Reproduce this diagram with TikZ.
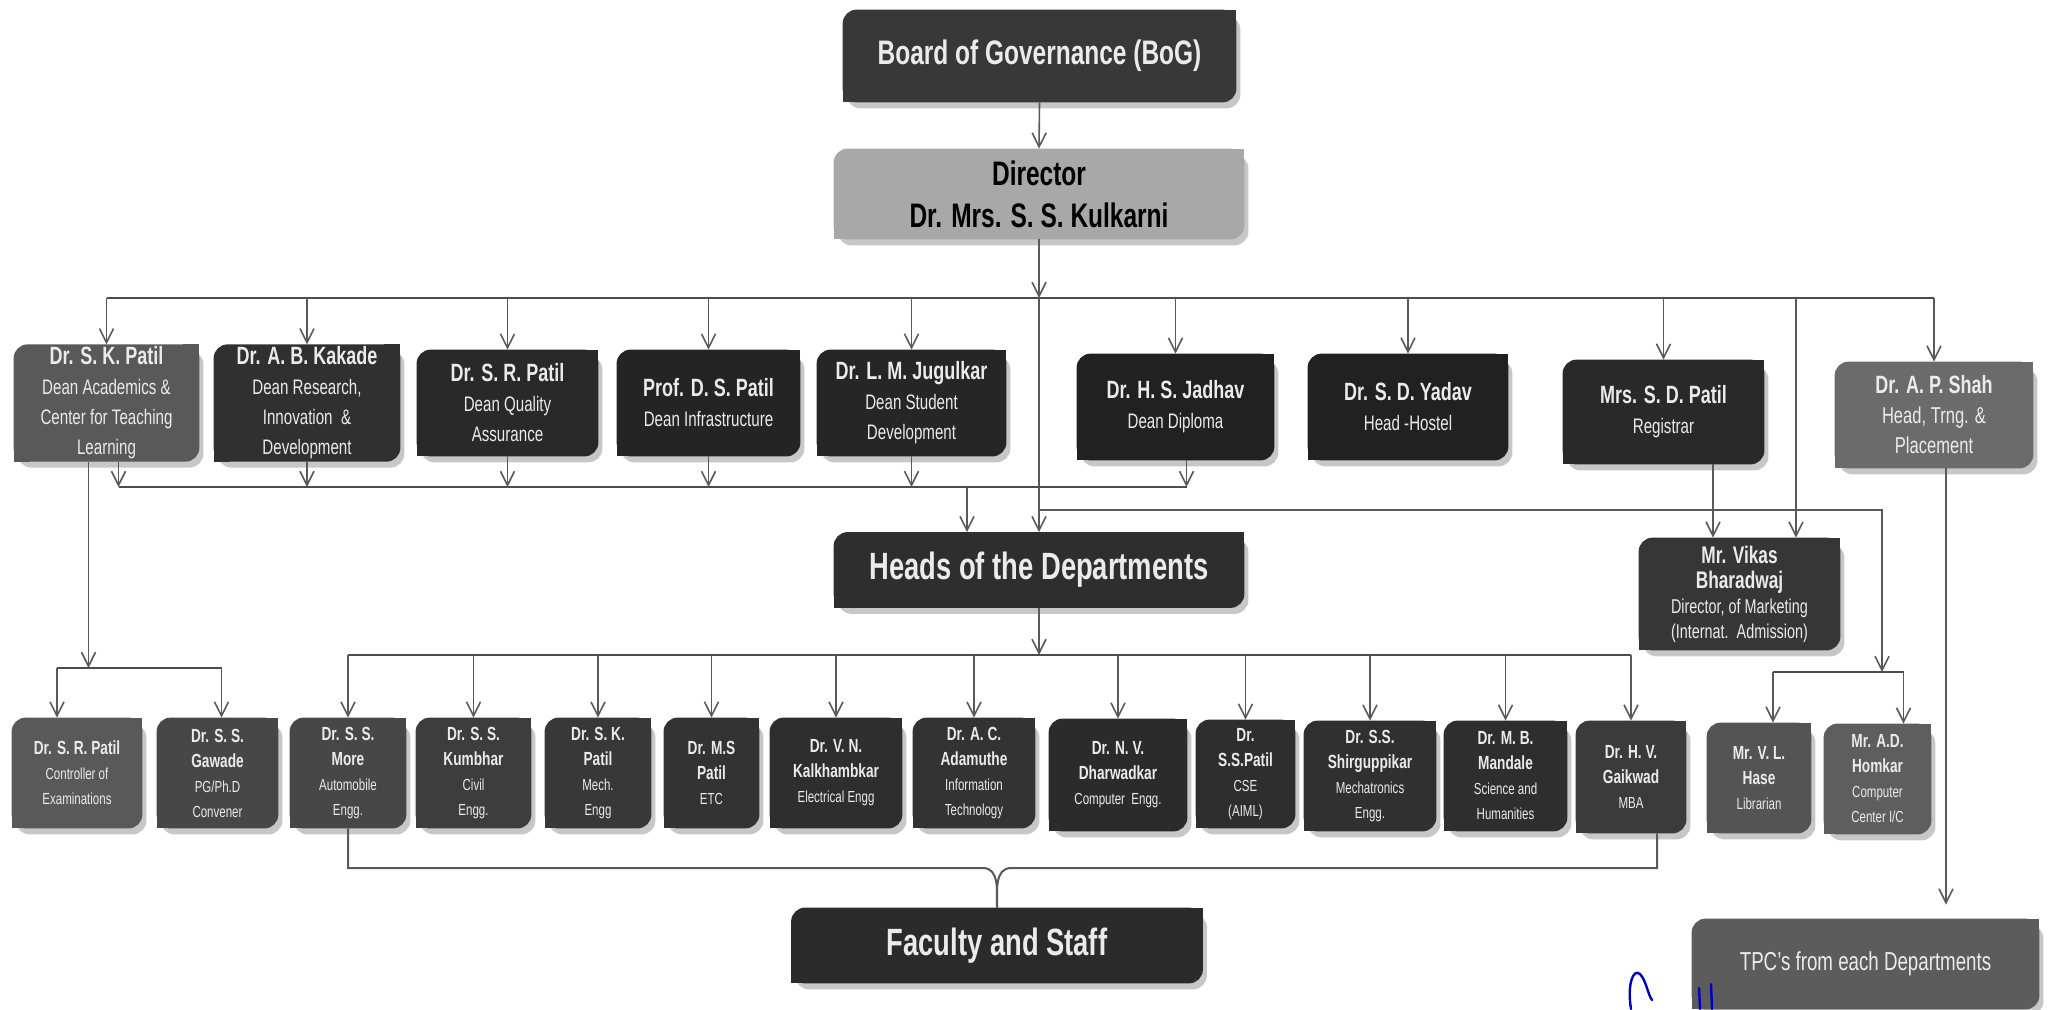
\documentclass[tikz,border=0pt]{standalone}
\usepackage{fontspec}
\setmainfont{Liberation Sans}[FakeStretch=0.72]
\usetikzlibrary{arrows.meta,backgrounds}
\definecolor{ctxt}{HTML}{EBEBEB}
\newcommand\mynameA[1]{{\bfseries\fontsize{12.5}{15}\selectfont #1}}
\newcommand\mynameB[1]{{\bfseries\fontsize{9.5}{12.5}\selectfont #1}}
\tikzset{
  sz/.style 2 args={minimum width=#1*0.5pt, minimum height=#2*0.5pt},
  obox/.style={draw=none, align=center, text=ctxt, inner sep=1pt},
  rowA/.style={obox, font=\fontsize{10.5}{15}\selectfont},
  rowB/.style={obox, font=\fontsize{8}{12.5}\selectfont},
  ln/.style={draw=black!65, line width=0.8pt},
  bus/.style={draw=black!70, line width=1.3pt},
  arr/.style={ln, -{Straight Barb[length=7pt,width=7pt]}},
}
\begin{document}
\begin{tikzpicture}[x=0.5pt,y=-0.5pt]
\useasboundingbox (0,0) rectangle (2049,1009);

% top
\node[obox, sz={393}{92}, font=\bfseries\fontsize{17}{20}\selectfont] (bog) at (1039.5,56) {Board of Governance (BoG)};
\node[obox, sz={410}{90}, text=black, font=\bfseries\fontsize{17}{21}\selectfont] (dir) at (1039,194) {Director\\Dr. Mrs. S. S. Kulkarni};

% row 1
\node[rowA, sz={185}{106}] (skp1) at (106.5,403) {\mynameA{Dr. S. K. Patil}\\Dean Academics \&\\Center for Teaching\\Learning};
\node[rowA, sz={186}{106}] (abk) at (307,403) {\mynameA{Dr. A. B. Kakade}\\Dean Research,\\Innovation \ \&\\Development};
\node[rowA, sz={181}{106}] (srp1) at (507.5,403) {\mynameA{Dr. S. R. Patil}\\Dean Quality\\Assurance};
\node[rowA, sz={183}{106}] (dsp) at (708.5,403) {\mynameA{Prof. D. S. Patil}\\Dean Infrastructure};
\node[rowA, sz={189}{106}] (lmj) at (911.5,403) {\mynameA{Dr. L. M. Jugulkar}\\Dean Student\\Development};
\node[rowA, sz={197}{106}] (hsj) at (1175.5,407) {\mynameA{Dr. H. S. Jadhav}\\Dean Diploma};
\node[rowA, sz={200}{106}] (sdy) at (1408,407) {\mynameA{Dr. S. D. Yadav}\\Head -Hostel};
\node[rowA, sz={201}{104}] (sdp) at (1663.5,412) {\mynameA{Mrs. S. D. Patil}\\Registrar};
\node[rowA, sz={198}{106}, font=\fontsize{11.5}{15}\selectfont] (aps) at (1934,415) {\mynameA{Dr. A. P. Shah}\\Head, Trng. \&\\Placement};

% middle
\node[obox, sz={410}{75}, font=\bfseries\fontsize{19}{22}\selectfont] (heads) at (1039,570) {Heads of the Departments};
\node[obox, sz={201}{112}, font=\fontsize{10}{12.5}\selectfont] (vik) at (1739.5,594) {{\bfseries\fontsize{12}{12.5}\selectfont Mr. Vikas}\\{\bfseries\fontsize{12}{12.5}\selectfont Bharadwaj}\\Director, of Marketing\\(Internat.\ \ Admission)};

% row 2
\node[rowB, sz={130}{110}] (ctrl) at (77,773) {\mynameB{Dr. S. R. Patil}\\Controller of\\Examinations};
\node[rowB, sz={121}{110}] (gaw) at (217.5,773) {\mynameB{Dr. S. S.}\\\mynameB{Gawade}\\PG/Ph.D\\Convener};
\node[rowB, sz={116}{110}] (more) at (348,773) {\mynameB{Dr. S. S.}\\\mynameB{More}\\Automobile\\Engg.};
\node[rowB, sz={115}{110}] (kum) at (473.5,773) {\mynameB{Dr. S. S.}\\\mynameB{Kumbhar}\\Civil\\Engg.};
\node[rowB, sz={106}{110}] (skm) at (598,773) {\mynameB{Dr. S. K.}\\\mynameB{Patil}\\Mech.\\Engg};
\node[rowB, sz={95}{110}] (msp) at (711.5,773) {\mynameB{Dr. M.S}\\\mynameB{Patil}\\ETC};
\node[rowB, sz={132}{110}] (vnk) at (836,773) {\mynameB{Dr. V. N.}\\\mynameB{Kalkhambkar}\\Electrical Engg};
\node[rowB, sz={122}{110}] (aca) at (974,773) {\mynameB{Dr. A. C.}\\\mynameB{Adamuthe}\\Information\\Technology};
\node[rowB, sz={138}{112}] (nvd) at (1118,775) {\mynameB{Dr. N. V.}\\\mynameB{Dharwadkar}\\Computer \ Engg.};
\node[rowB, sz={99}{108}] (ssp) at (1245.5,774) {\mynameB{Dr.}\\\mynameB{S.S.Patil}\\CSE\\(AIML)};
\node[rowB, sz={132}{110}] (sss) at (1370,776) {\mynameB{Dr. S.S.}\\\mynameB{Shirguppikar}\\Mechatronics\\Engg.};
\node[rowB, sz={123}{110}] (mbm) at (1505.5,776) {\mynameB{Dr. M. B.}\\\mynameB{Mandale}\\Science and\\Humanities};
\node[rowB, sz={110}{112}] (hvg) at (1631,777) {\mynameB{Dr. H. V.}\\\mynameB{Gaikwad}\\MBA};
\node[rowB, sz={104}{110}] (vlh) at (1759,778) {\mynameB{Mr. V. L.}\\\mynameB{Hase}\\Librarian};
\node[rowB, sz={107}{110}] (adh) at (1877.5,779) {\mynameB{Mr. A.D.}\\\mynameB{Homkar}\\Computer\\Center I/C};

% bottom
\node[obox, sz={411}{75}, font=\bfseries\fontsize{19}{22}\selectfont] (fac) at (997,945.5) {Faculty and Staff};
\node[obox, sz={347}{90}, font=\fontsize{13}{15}\selectfont] (tpc) at (1865.5,964) {TPC's from each Departments};

% box fills
\begin{pgfonlayer}{background}
\foreach \n/\c in {bog/black!78, dir/black!34, skp1/black!65, abk/black!81, srp1/black!84, dsp/black!86, lmj/black!85, hsj/black!87, sdy/black!87, sdp/black!84, aps/black!58, heads/black!82, vik/black!79, ctrl/black!65, gaw/black!72, more/black!72, kum/black!76, skm/black!78, msp/black!80, vnk/black!82, aca/black!80, nvd/black!83, ssp/black!82, sss/black!81, mbm/black!82, hvg/black!77, vlh/black!67, adh/black!63, fac/black!83, tpc/black!64} {
  \fill[black!22, rounded corners=7pt] ([shift={(2pt,-3pt)}]\n.south west) rectangle ([shift={(2pt,-3pt)}]\n.north east);
  \fill[\c, rounded corners=7pt] (\n.south west) rectangle (\n.north east);
  \fill[\c] (\n.north east) rectangle ++(-8pt,-8pt);
  \fill[\c] (\n.south west) rectangle ++(8pt,8pt);
}
\end{pgfonlayer}

% helper coordinates
\coordinate (busT) at (0,298);
\coordinate (busL) at (0,487);
\coordinate (busB) at (0,510);
\coordinate (busH) at (0,655);
\coordinate (brL) at (0,668);
\coordinate (brR) at (0,672);
\coordinate (brF) at (0,868);

% BoG -> Director -> top bus
\draw[arr] (bog.south) -- (dir.north);
\draw[arr] (dir.south) -- (dir.south |- busT);
\draw[bus] (skp1.north |- busT) -- (aps.north |- busT);
\foreach \n in {skp1,abk,srp1,dsp,lmj,hsj,sdy,sdp,aps}
  \draw[arr] (\n.north |- busT) -- (\n.north);
\draw[arr] (dir.south |- busT) -- (heads.north);
\coordinate (vx) at ([xshift=28.25pt]vik.north);
\draw[arr] (vx |- busT) -- (vx);

% deans -> lower bus -> heads
\coordinate (l1) at ([xshift=6pt]skp1.south);
\coordinate (l6) at ([xshift=5.5pt]hsj.south);
\draw[bus] (l1 |- busL) -- (l6 |- busL);
\draw[arr] (l1) -- (l1 |- busL);
\foreach \n in {abk,srp1,dsp,lmj}
  \draw[arr] (\n.south) -- (\n.south |- busL);
\draw[arr] (l6) -- (l6 |- busL);
\coordinate (hx) at ([xshift=-36pt]heads.north);
\draw[arr] (hx |- busL) -- (hx);

% branch to librarian / computer center
\coordinate (rx) at (1882,510);
\draw[arr] (dir.south |- busB) -- (rx) -- (rx |- brR);
\coordinate (hx1) at ([xshift=7pt]vlh.north);
\coordinate (hx2) at ([xshift=13pt]adh.north);
\draw[bus] (hx1 |- brR) -- (hx2 |- brR);
\draw[arr] (hx1 |- brR) -- (hx1);
\draw[arr] (hx2 |- brR) -- (hx2);

% registrar -> Vikas
\coordinate (sx) at ([xshift=24.75pt]sdp.south);
\draw[arr] (sx) -- (sx |- vik.north);

% A. P. Shah -> TPC
\coordinate (ax) at ([xshift=6pt]aps.south);
\draw[arr, shorten >=7pt] (ax) -- (ax |- tpc.north);

% S. K. Patil -> controller / PG convener
\coordinate (lx) at ([xshift=-9pt]skp1.south);
\draw[arr] (lx) -- (lx |- brL);
\coordinate (cx1) at ([xshift=-10pt]ctrl.north);
\coordinate (cx2) at ([xshift=2pt]gaw.north);
\draw[bus] (cx1 |- brL) -- (cx2 |- brL);
\draw[arr] (cx1 |- brL) -- (cx1);
\draw[arr] (cx2 |- brL) -- (cx2);

% heads -> departments
\draw[arr] (heads.south) -- (heads.south |- busH);
\draw[bus] (more.north |- busH) -- (hvg.north |- busH);
\foreach \n in {more,kum,skm,msp,vnk,aca,nvd,ssp,sss,mbm,hvg}
  \draw[arr] (\n.north |- busH) -- (\n.north);

% departments -> faculty (brace)
\coordinate (hx3) at ([xshift=13pt]hvg.south);
\draw[ln, line width=1pt] (more.south) -- (more.south |- brF) -- ([xshift=-7pt]fac.north |- brF) to[out=0,in=90] (fac.north);
\draw[ln, line width=1pt] (hx3) -- (hx3 |- brF) -- ([xshift=7pt]fac.north |- brF) to[out=180,in=90] (fac.north);

% signature
\draw[blue!75!black, line width=1.2pt, line cap=round] (1631,1009) .. controls (1627,985) and (1633,968) .. (1640,974) .. controls (1646,980) and (1648,995) .. (1652,1000);
\draw[blue!75!black, line width=1.2pt, line cap=round] (1699,988) -- (1700,1009);
\draw[blue!75!black, line width=1.2pt, line cap=round] (1711,984) -- (1712,1009);
\end{tikzpicture}
\end{document}
